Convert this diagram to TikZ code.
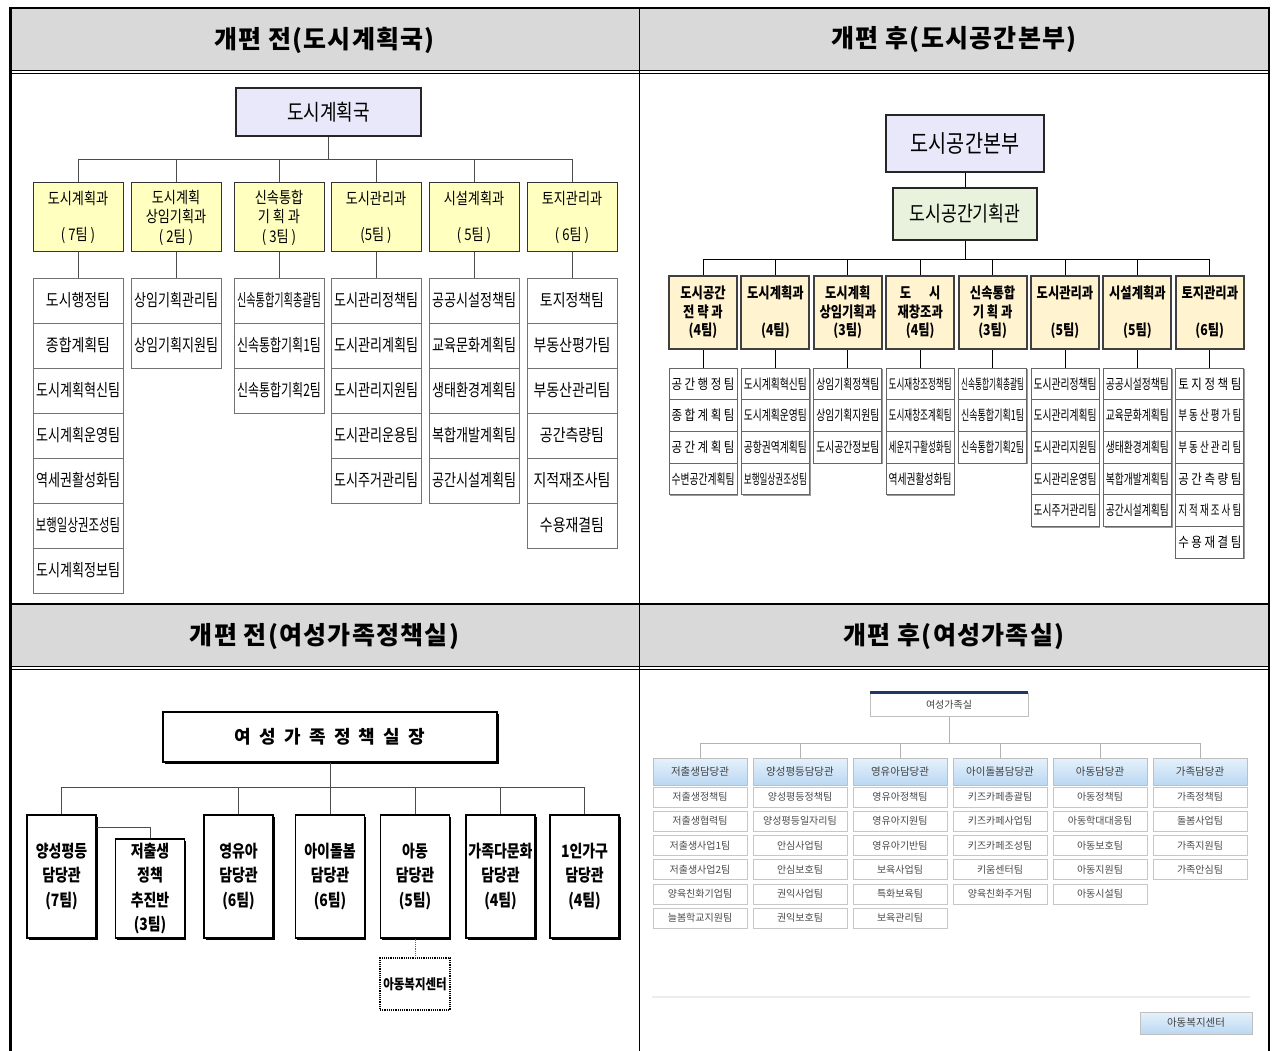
\documentclass[tikz,border=0pt]{standalone}
\usepackage{fontspec}
\setmainfont{Noto Sans CJK KR}
\newfontfamily\cond[FakeStretch=0.82]{Noto Sans CJK KR}
\newfontfamily\headfont[LetterSpace=5]{Noto Sans CJK KR}
\usepackage{graphicx}
\usetikzlibrary{shadows}
\usetikzlibrary{positioning}
\usetikzlibrary{calc}
\definecolor{hdrgray}{RGB}{217,217,217}
\definecolor{lav}{RGB}{232,232,250}
\definecolor{kwayellow}{RGB}{255,255,192}
\definecolor{beige}{RGB}{255,243,208}
\definecolor{mint}{RGB}{232,242,220}
\definecolor{navy}{RGB}{31,56,100}
\definecolor{skytop}{RGB}{230,241,252}
\definecolor{skybot}{RGB}{186,216,242}
\newcommand\squeeze[2]{\setbox0\hbox{#2}\ifdim\wd0>#1\relax\resizebox{#1}{\height}{\copy0}\else\copy0\fi}
\tikzstyle{header}=[font=\headfont\bfseries\fontsize{25}{27}\selectfont]
\tikzstyle{conn}=[draw,black!70,line width=0.8pt]
\tikzstyle{bigbox}=[draw=black!85,line width=1.5pt,inner sep=0pt,align=center]
\tikzstyle{guk}=[bigbox,fill=lav,minimum width=185pt,minimum height=48pt,font=\cond\fontsize{22}{24}\selectfont]
\tikzstyle{kwa}=[draw=black!80,line width=1pt,fill=kwayellow,minimum width=90pt,minimum height=69pt,inner sep=0pt,align=center,font=\cond\fontsize{16}{19.5}\selectfont]
\tikzstyle{tm}=[draw=black!55,line width=1pt,fill=white,minimum width=90pt,minimum height=45pt,inner sep=0pt,font=\cond\fontsize{17}{19}\selectfont,drop shadow={shadow xshift=1.2pt,shadow yshift=-1.2pt,fill=black!40,opacity=1}]
\tikzstyle{gwa}=[draw=black!75,line width=2pt,fill=beige,minimum width=68pt,minimum height=73pt,inner sep=0pt,align=center,font=\cond\bfseries\fontsize{15}{18.5}\selectfont]
\tikzstyle{tm2}=[draw=black!60,line width=1pt,fill=white,minimum width=68pt,minimum height=31.7pt,inner sep=0pt,font=\cond\fontsize{14}{16}\selectfont,drop shadow={shadow xshift=1.2pt,shadow yshift=-1.2pt,fill=black!40,opacity=1}]
\tikzstyle{dam}=[draw=black,line width=1.3pt,fill=white,minimum width=69pt,minimum height=123pt,inner sep=0pt,align=center,font=\cond\bfseries\fontsize{17}{24.5}\selectfont,drop shadow={shadow xshift=1.5pt,shadow yshift=-1.5pt,fill=black,opacity=1}]
\tikzstyle{head}=[draw=black!25,top color=skytop,bottom color=skybot,minimum width=94pt,minimum height=27pt,inner sep=0pt,text=black!75,font=\fontsize{10.5}{12}\selectfont]
\tikzstyle{tm4}=[draw=black!22,fill=white,minimum width=94pt,minimum height=20pt,inner sep=0pt,text=black!70,font=\fontsize{10}{12}\selectfont]
\tikzstyle{light}=[draw,black!30,line width=0.8pt]

\begin{document}
\begin{tikzpicture}[x=1pt,y=-1pt]
    \useasboundingbox (0,0) rectangle (1272,1051);
    % Frame and the two title rows
    \fill[hdrgray] (10,8) rectangle (1269,70);
    \fill[hdrgray] (10,604) rectangle (1269,666);
    \draw[line width=2pt] (10,8) -- (1269,8);
    \draw[line width=0.8pt] (10,70) -- (1269,70);
    \draw[line width=0.8pt] (10,73) -- (1269,73);
    \draw[line width=1.2pt] (10,604) -- (1269,604);
    \draw[line width=0.8pt] (10,666) -- (1269,666);
    \draw[line width=0.8pt] (10,669) -- (1269,669);
    \draw[line width=3pt] (10,7) -- (10,1051);
    \draw[line width=2pt] (1269,7) -- (1269,1051);
    \draw[line width=1pt] (639,8) -- (639,1051);
    \node[header] (t1) at (324.5,40) {개편 전(도시계획국)};
    \node[header] (t2) at (954,40) {개편 후(도시공간본부)};
    \node[header] (t3) at (324.5,636) {개편 전(여성가족정책실)};
    \node[header] (t4) at (954,636) {개편 후(여성가족실)};

    % Before: 도시계획국
    \node[guk] (guk) at (328.5,112) {도시계획국};
    \foreach \c/\x/\label in {1/78/{도시계획과\\[17pt]( 7팀 )}, 2/176/{도시계획\\상임기획과\\( 2팀 )}, 3/279/{신속통합\\기 획 과\\( 3팀 )}, 4/376/{도시관리과\\[17pt](5팀 )}, 5/474/{시설계획과\\[17pt]( 5팀 )}, 6/572/{토지관리과\\[17pt]( 6팀 )}}
        \node[kwa] (kwa\c) at (\x,217.5) {\label};
    \foreach \c/\teams in {1/{도시행정팀,종합계획팀,도시계획혁신팀,도시계획운영팀,역세권활성화팀,보행일상권조성팀,도시계획정보팀}, 2/{상임기획관리팀,상임기획지원팀}, 3/{신속통합기획총괄팀,신속통합기획1팀,신속통합기획2팀}, 4/{도시관리정책팀,도시관리계획팀,도시관리지원팀,도시관리운용팀,도시주거관리팀}, 5/{공공시설정책팀,교육문화계획팀,생태환경계획팀,복합개발계획팀,공간시설계획팀}, 6/{토지정책팀,부동산평가팀,부동산관리팀,공간측량팀,지적재조사팀,수용재결팀}}
        \foreach \t [count=\i] in \teams
            \node[tm] (kwa\c-\i) at ($(kwa\c)+(0,{38+45*\i})$) {\squeeze{84pt}{\t}};
    \draw[conn] (guk.south) -- (guk.south |- 0,159);
    \draw[conn] (kwa1.north |- 0,159) -- (kwa6.north |- 0,159);
    \foreach \c in {1,...,6} {
        \draw[conn] (kwa\c.north |- 0,159) -- (kwa\c.north);
        \draw[conn] (kwa\c.south) -- (kwa\c-1.north);
    }

    % After: 도시공간본부
    \node[guk,font=\cond\fontsize{24}{26}\selectfont,minimum width=158pt,minimum height=57pt] (bonbu) at (965,143.5) {도시공간본부};
    \node[bigbox,fill=mint,minimum width=144pt,minimum height=52pt,font=\cond\fontsize{21}{23}\selectfont] (gihoek) at (965,214) {도시공간기획관};
    \foreach \c/\label in {1/{도시공간\\전 략 과\\(4팀)}, 2/{도시계획과\\[18.5pt](4팀)}, 3/{도시계획\\상임기획과\\(3팀)}, 4/{도\quad\ 시\\재창조과\\(4팀)}, 5/{신속통합\\기 획 과\\(3팀)}, 6/{도시관리과\\[18.5pt](5팀)}, 7/{시설계획과\\[18.5pt](5팀)}, 8/{토지관리과\\[18.5pt](6팀)}}
        \node[gwa] (gwa\c) at ({703+72.4*(\c-1)},312.5) {\label};
    \foreach \c/\teams in {1/{공 간 행 정 팀,종 합 계 획 팀,공 간 계 획 팀,수변공간계획팀}, 2/{도시계획혁신팀,도시계획운영팀,공항권역계획팀,보행일상권조성팀}, 3/{상임기획정책팀,상임기획지원팀,도시공간정보팀}, 4/{도시재창조정책팀,도시재창조계획팀,세운지구활성화팀,역세권활성화팀}, 5/{신속통합기획총괄팀,신속통합기획1팀,신속통합기획2팀}, 6/{도시관리정책팀,도시관리계획팀,도시관리지원팀,도시관리운영팀,도시주거관리팀}, 7/{공공시설정책팀,교육문화계획팀,생태환경계획팀,복합개발계획팀,공간시설계획팀}, 8/{토 지 정 책 팀,부 동 산 평 가 팀,부 동 산 관 리 팀,공 간 측 량 팀,지 적 재 조 사 팀,수 용 재 결 팀}}
        \foreach \t [count=\i] in \teams
            \node[tm2] (gwa\c-\i) at ($(gwa\c)+(0,{39.65+31.7*\i})$) {\squeeze{63pt}{\t}};
    \draw[conn,black] (bonbu.south) -- (gihoek.north);
    \draw[conn,black] (gihoek.south) -- (gihoek.south |- 0,259);
    \draw[conn,black] (gwa1.north |- 0,259) -- (gwa8.north |- 0,259);
    \foreach \c in {1,...,8} {
        \draw[conn,black] (gwa\c.north |- 0,259) -- (gwa\c.north);
        \draw[conn,black] (gwa\c.south) -- (gwa\c-1.north);
    }

    % Before: 여성가족정책실
    \node[dam,minimum width=334pt,minimum height=50pt,font=\bfseries\fontsize{18}{20}\selectfont] (silj) at (330,737) {여\ \ 성\ \ 가\ \ 족\ \ 정\ \ 책\ \ 실\ \ 장};
    \foreach \c/\x/\label in {1/61.5/{양성평등\\담당관\\(7팀)}, 3/238.5/{영유아\\담당관\\(6팀)}, 4/330/{아이돌봄\\담당관\\(6팀)}, 5/415/{아동\\담당관\\(5팀)}, 6/500.5/{\squeeze{65pt}{가족다문화}\\담당관\\(4팀)}, 7/584.5/{1인가구\\담당관\\(4팀)}}
        \node[dam] (dam\c) at (\x,876.5) {\label};
    \node[dam,minimum height=99pt] (dam2) at (150,888.5) {저출생\\정책\\추진반\\(3팀)};
    \node[draw,densely dotted,line width=1.2pt,minimum width=70pt,minimum height=52pt,inner sep=0pt,font=\cond\bfseries\fontsize{14}{16}\selectfont] (bokji) at (415,984) {아동복지센터};
    \draw[conn] (silj.south) -- (dam4.north);
    \draw[conn] (dam1.north |- 0,787) -- (dam7.north |- 0,787);
    \foreach \c in {1,3,5,6,7}
        \draw[conn] (dam\c.north |- 0,787) -- (dam\c.north);
    \draw[conn] (dam1.east |- 0,827) -| (dam2.north);
    \draw[densely dotted,black!60,line width=0.8pt] (dam5.south) -- (bokji.north);

    % After: 여성가족실
    \node[draw=black!25,fill=white,minimum width=158pt,minimum height=23pt,inner sep=0pt,text=black!75,font=\fontsize{10}{12}\selectfont] (sil) at (949,704.5) {여성가족실};
    \draw[navy,line width=3pt] (sil.north west) -- (sil.north east);
    \foreach \c/\label in {1/저출생담당관, 2/양성평등담당관, 3/영유아담당관, 4/아이돌봄담당관, 5/아동담당관, 6/가족담당관}
        \node[head] (head\c) at ({700+100*(\c-1)},771.5) {\label};
    \foreach \c/\teams in {1/{저출생정책팀,저출생협력팀,저출생사업1팀,저출생사업2팀,양육친화기업팀,늘봄학교지원팀}, 2/{양성평등정책팀,양성평등일자리팀,안심사업팀,안심보호팀,권익사업팀,권익보호팀}, 3/{영유아정책팀,영유아지원팀,영유아기반팀,보육사업팀,특화보육팀,보육관리팀}, 4/{키즈카페총괄팀,키즈카페사업팀,키즈카페조성팀,키움센터팀,양육친화주거팀}, 5/{아동정책팀,아동학대대응팀,아동보호팀,아동지원팀,아동시설팀}, 6/{가족정책팀,돌봄사업팀,가족지원팀,가족안심팀}}
        \foreach \t [count=\i] in \teams
            \node[tm4] (head\c-\i) at ($(head\c)+(0,{1.3+24.2*\i})$) {\t};
    \draw[light] (sil.south) -- (sil.south |- 0,743);
    \draw[light] (head1.north |- 0,743) -- (head6.north |- 0,743);
    \foreach \c in {1,...,6}
        \draw[light] (head\c.north |- 0,743) -- (head\c.north);
    \draw[black!7,line width=1.5pt] (652,997) -- (1250,997);
    \node[head,minimum width=112pt,minimum height=22pt] (bokji2) at (1196,1023) {아동복지센터};
\end{tikzpicture}
\end{document}
